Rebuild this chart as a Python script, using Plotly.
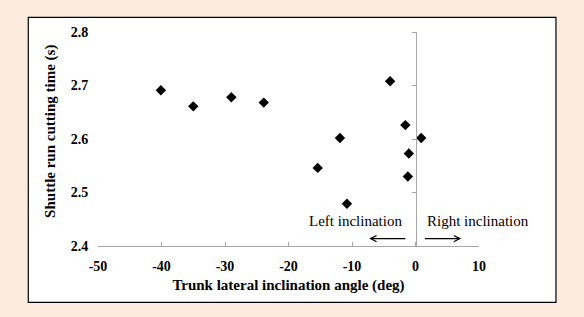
import plotly.graph_objects as go

# Data
angle_deg = [-40.1, -35.0, -29.0, -23.9, -4.0, -11.9, -15.4, -10.8, -1.6, 0.9, -1.05, -1.2]
cutting_time_s = [2.691, 2.661, 2.678, 2.668, 2.708, 2.602, 2.546, 2.479, 2.626, 2.602, 2.573, 2.530]

x_ticks = [-50, -40, -30, -20, -10, 0, 10]
x_tick_text = ["-50", "-40", "-30", "-20", "-10", "0", "10"]
y_ticks = [2.4, 2.5, 2.6, 2.7, 2.8]
y_tick_text = ["2.4", "2.5", "2.6", "2.7", "2.8"]
x_title = "Trunk lateral inclination angle (deg)"
y_title = "Shuttle run cutting time (s)"
left_label = "Left inclination"
right_label = "Right inclination"

SERIF = "Liberation Serif, Times New Roman, serif"
AXIS_GRAY = "#a6a6a6"
BG = "#fcebdf"

fig = go.Figure()
fig.add_trace(go.Scatter(
    x=angle_deg, y=cutting_time_s, mode="markers", yaxis="y2",
    marker=dict(symbol="diamond", size=8, color="black"),
    showlegend=False, hoverinfo="x+y",
))

# white framed panel
fig.add_shape(type="rect", xref="paper", yref="paper",
              x0=-0.183, x1=1.202, y0=-0.263, y1=1.068,
              fillcolor="white", line=dict(color="black", width=1.2), layer="below")

# arrows and labels
fig.add_annotation(x=-7.3, y=2.4138, ax=-1.37, ay=2.4138, xref="x", yref="y", axref="x", ayref="y",
                   text="", showarrow=True, arrowhead=5, arrowsize=1, arrowwidth=1.2, arrowcolor="black")
fig.add_annotation(x=7.2, y=2.4138, ax=1.24, ay=2.4138, xref="x", yref="y", axref="x", ayref="y",
                   text="", showarrow=True, arrowhead=5, arrowsize=1, arrowwidth=1.2, arrowcolor="black")
fig.add_annotation(x=-1.8, y=2.446, xref="x", yref="y", text=left_label, showarrow=False,
                   xanchor="right", yanchor="middle", font=dict(family=SERIF, size=15, color="black"))
fig.add_annotation(x=1.5, y=2.446, xref="x", yref="y", text=right_label, showarrow=False,
                   xanchor="left", yanchor="middle", font=dict(family=SERIF, size=15, color="black"))

# y-axis title
fig.add_annotation(x=-0.125, y=0.535, xref="paper", yref="paper", text=f"<b>{y_title}</b>", textangle=-90,
                   showarrow=False, xanchor="center", yanchor="middle",
                   font=dict(family=SERIF, size=15, color="black"))

fig.update_layout(
    width=584, height=317,
    margin=dict(l=97.7, r=105, t=31.5, b=71.3, pad=0),
    paper_bgcolor=BG, plot_bgcolor="white",
    font=dict(family=SERIF, color="black"),
    xaxis=dict(range=[-50, 10], tickvals=x_ticks, ticktext=[f"<b>{t}</b>" for t in x_tick_text],
               showgrid=False, zeroline=False,
               showline=True, linecolor=AXIS_GRAY, linewidth=1,
               ticks="inside", ticklen=4, tickcolor=AXIS_GRAY,
               tickfont=dict(family=SERIF, size=14, color="black"),
               ticklabelstandoff=7,
               title=dict(text=f"<b>{x_title}</b>", font=dict(family=SERIF, size=15), standoff=6)),
    yaxis=dict(range=[2.4, 2.8], tickvals=y_ticks, ticktext=[f"<b>{t}</b>" for t in y_tick_text],
               showgrid=False, zeroline=False,
               showline=False, ticks="outside", ticklen=6, tickcolor="rgba(0,0,0,0)",
               tickfont=dict(family=SERIF, size=14, color="black")),
    yaxis2=dict(range=[2.4, 2.8], tickvals=y_ticks, overlaying="y", anchor="free", position=50/60,
                showgrid=False, zeroline=False, showline=True, linecolor=AXIS_GRAY, linewidth=1,
                ticks="outside", ticklen=4, tickcolor=AXIS_GRAY, showticklabels=False),
)

fig.write_html("out.html", config={"displayModeBar": False},
               post_script="document.body.style.margin='0';")
